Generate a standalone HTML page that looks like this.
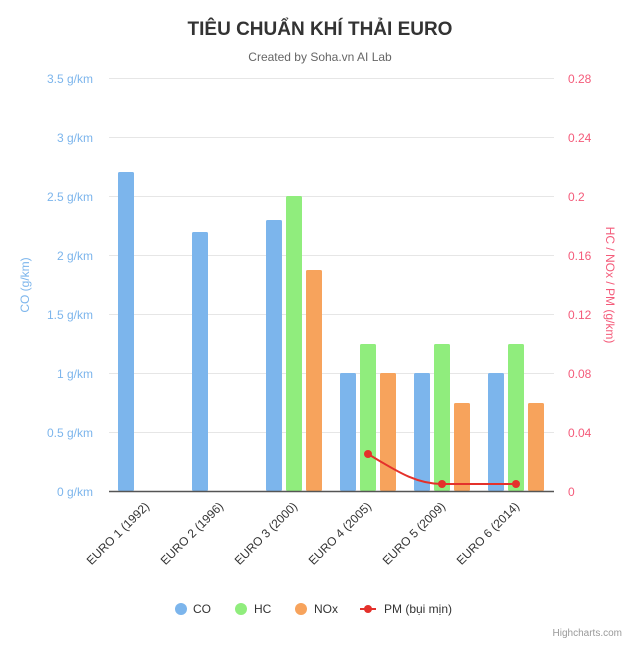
<!DOCTYPE html>
<html><head><meta charset="utf-8"><style>
body{margin:0;background:#fff}
svg{font-family:"Liberation Sans","DejaVu Sans",sans-serif}
</style></head><body>
<svg width="640" height="662" viewBox="0 0 640 662" xmlns="http://www.w3.org/2000/svg">
<rect width="640" height="662" fill="#fff"/>
<text x="320" y="35" text-anchor="middle" font-size="19" font-weight="bold" fill="#333">TIÊU CHUẨN KHÍ THẢI EURO</text>
<text x="320" y="61" text-anchor="middle" font-size="12" fill="#666">Created by Soha.vn AI Lab</text>
<g stroke="#e6e6e6" stroke-width="1">
<line x1="109" x2="554" y1="78.5" y2="78.5"/><line x1="109" x2="554" y1="137.5" y2="137.5"/>
<line x1="109" x2="554" y1="196.5" y2="196.5"/><line x1="109" x2="554" y1="255.5" y2="255.5"/>
<line x1="109" x2="554" y1="314.5" y2="314.5"/><line x1="109" x2="554" y1="373.5" y2="373.5"/>
<line x1="109" x2="554" y1="432.5" y2="432.5"/>
</g>
<g font-size="12" fill="#7cb5ec" text-anchor="end">
<text x="93" y="83">3.5 g/km</text><text x="93" y="142">3 g/km</text><text x="93" y="201">2.5 g/km</text>
<text x="93" y="260">2 g/km</text><text x="93" y="319">1.5 g/km</text><text x="93" y="378">1 g/km</text>
<text x="93" y="437">0.5 g/km</text><text x="93" y="496">0 g/km</text>
</g>
<g font-size="12" fill="#f45b7a">
<text x="568" y="83">0.28</text><text x="568" y="142">0.24</text><text x="568" y="201">0.2</text>
<text x="568" y="260">0.16</text><text x="568" y="319">0.12</text><text x="568" y="378">0.08</text>
<text x="568" y="437">0.04</text><text x="568" y="496">0</text>
</g>
<text transform="translate(29,285) rotate(-90)" text-anchor="middle" font-size="12" fill="#7cb5ec">CO (g/km)</text>
<text transform="translate(606,285) rotate(90)" text-anchor="middle" font-size="12" fill="#f45b7a">HC / NOx / PM (g/km)</text>
<g fill="#7cb5ec">
<rect x="118" y="172" width="16" height="319" rx="1.5"/>
<rect x="192" y="232" width="16" height="259" rx="1.5"/>
<rect x="266" y="220" width="16" height="271" rx="1.5"/>
<rect x="340" y="373" width="16" height="118" rx="1.5"/>
<rect x="414" y="373" width="16" height="118" rx="1.5"/>
<rect x="488" y="373" width="16" height="118" rx="1.5"/>
</g>
<g fill="#90ed7d">
<rect x="286" y="196" width="16" height="295" rx="1.5"/>
<rect x="360" y="344" width="16" height="147" rx="1.5"/>
<rect x="434" y="344" width="16" height="147" rx="1.5"/>
<rect x="508" y="344" width="16" height="147" rx="1.5"/>
</g>
<g fill="#f7a35c">
<rect x="306" y="270" width="16" height="221" rx="1.5"/>
<rect x="380" y="373" width="16" height="118" rx="1.5"/>
<rect x="454" y="403" width="16" height="88" rx="1.5"/>
<rect x="528" y="403" width="16" height="88" rx="1.5"/>
</g>
<line x1="109" x2="554" y1="491.5" y2="491.5" stroke="#555" stroke-width="1.5"/>
<path d="M368,454 C395,470 415,484 442,484 L516,484" stroke="#e4312b" stroke-width="2" fill="none"/>
<g fill="#e4312b"><circle cx="368" cy="454" r="4"/><circle cx="442" cy="484" r="4"/><circle cx="516" cy="484" r="4"/></g>
<g font-size="12" fill="#333" text-anchor="end">
<text transform="translate(150,507) rotate(-45)">EURO 1 (1992)</text>
<text transform="translate(224,507) rotate(-45)">EURO 2 (1996)</text>
<text transform="translate(298,507) rotate(-45)">EURO 3 (2000)</text>
<text transform="translate(372,507) rotate(-45)">EURO 4 (2005)</text>
<text transform="translate(446,507) rotate(-45)">EURO 5 (2009)</text>
<text transform="translate(520,507) rotate(-45)">EURO 6 (2014)</text>
</g>
<g font-size="12" fill="#333">
<circle cx="181" cy="609" r="6" fill="#7cb5ec"/><text x="193" y="613">CO</text>
<circle cx="241" cy="609" r="6" fill="#90ed7d"/><text x="254" y="613">HC</text>
<circle cx="301" cy="609" r="6" fill="#f7a35c"/><text x="314" y="613">NOx</text>
<line x1="360" x2="376" y1="609" y2="609" stroke="#e4312b" stroke-width="2"/><circle cx="368" cy="609" r="4" fill="#e4312b"/>
<text x="384" y="613">PM (bụi mịn)</text>
</g>
<text x="622" y="636" text-anchor="end" font-size="10" fill="#999">Highcharts.com</text>
</svg>
</body></html>
